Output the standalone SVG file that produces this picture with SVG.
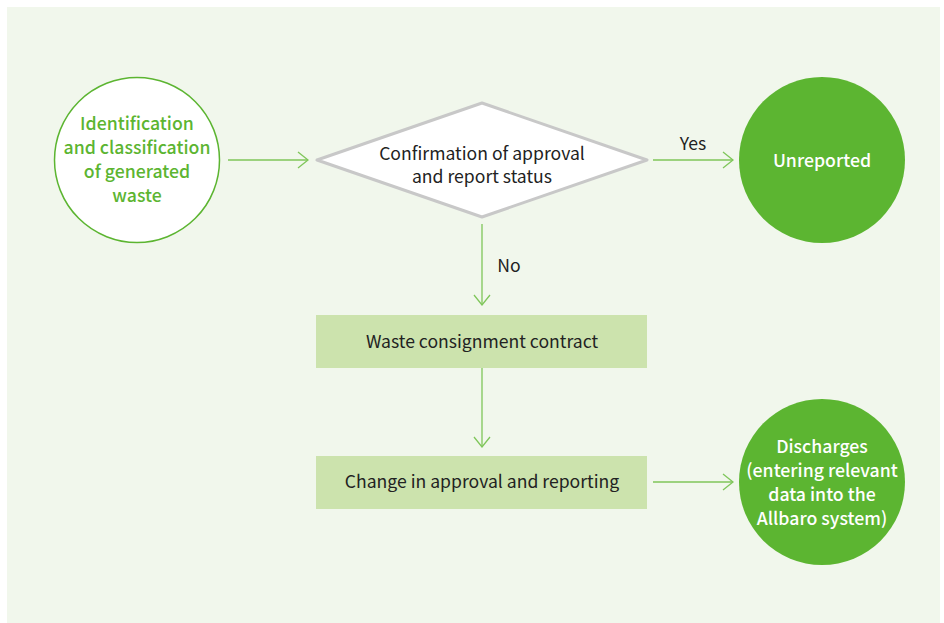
<svg xmlns="http://www.w3.org/2000/svg" width="944" height="623" viewBox="0 0 944 623">
<defs>
<marker id="arr" viewBox="0 0 12 18" refX="11" refY="9" markerWidth="12" markerHeight="18" markerUnits="userSpaceOnUse" orient="auto">
<path d="M1,1 L11,9 L1,17" fill="none" stroke="#7fc65a" stroke-width="1.3"/>
</marker>
<style>
.t{font-family:"Noto Sans CJK KR","Noto Sans","Liberation Sans",sans-serif;text-anchor:middle;}
.dk{fill:#222;font-size:17.6px;}
.cl{font-size:17.7px;font-weight:500;}
.conn{stroke:#7fc65a;stroke-width:1.3;fill:none;marker-end:url(#arr);}
</style>
</defs>
<rect x="0" y="0" width="944" height="623" fill="#ffffff"/>
<rect x="7" y="7" width="933" height="616" fill="#f1f7ec"/>
<g id="connectors">
<line class="conn" x1="228" y1="160" x2="308" y2="160"/>
<line class="conn" x1="653" y1="160" x2="733" y2="160"/>
<line class="conn" x1="482" y1="224" x2="482" y2="305"/>
<line class="conn" x1="482" y1="367" x2="482" y2="447"/>
<line class="conn" x1="653" y1="482" x2="733" y2="482"/>
<text class="t dk" x="693" y="150">Yes</text>
<text class="t dk" x="509" y="272">No</text>
</g>
<g id="n1">
<circle cx="137" cy="160" r="82.5" fill="#ffffff" stroke="#5cb531" stroke-width="1.5"/>
<text class="t cl" fill="#5cb531"><tspan x="137" y="130">Identification</tspan><tspan x="137" y="154">and classification</tspan><tspan x="137" y="178">of generated</tspan><tspan x="137" y="202">waste</tspan></text>
</g>
<g id="n2">
<polygon points="317,160 482,103 647,160 482,217" fill="#ffffff" stroke="#c8c8c8" stroke-width="3" stroke-linejoin="round"/>
<text class="t dk"><tspan x="482" y="160">Confirmation of approval</tspan><tspan x="482" y="183">and report status</tspan></text>
</g>
<g id="n3">
<circle cx="822" cy="160" r="83" fill="#5cb531"/>
<text class="t cl" fill="#ffffff" x="822" y="167">Unreported</text>
</g>
<g id="n4">
<rect x="316" y="315" width="331" height="53" fill="#cce3ad"/>
<text class="t dk" x="482" y="348">Waste consignment contract</text>
</g>
<g id="n5">
<rect x="316" y="456" width="331" height="53" fill="#cce3ad"/>
<text class="t dk" x="482" y="488">Change in approval and reporting</text>
</g>
<g id="n6">
<circle cx="822" cy="482" r="83" fill="#5cb531"/>
<text class="t cl" fill="#ffffff"><tspan x="822" y="453">Discharges</tspan><tspan x="822" y="477">(entering relevant</tspan><tspan x="822" y="501">data into the</tspan><tspan x="822" y="525">Allbaro system)</tspan></text>
</g>
</svg>
